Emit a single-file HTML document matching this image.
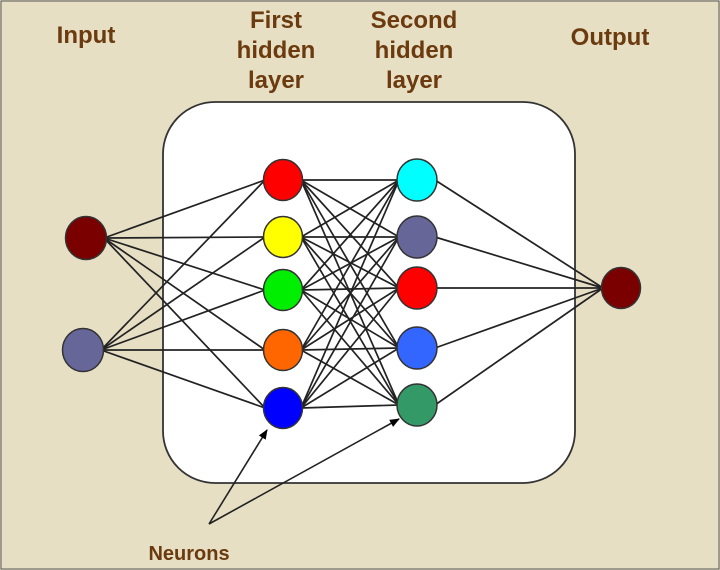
<!DOCTYPE html>
<html><head><meta charset="utf-8"><style>
body{margin:0;width:720px;height:570px;overflow:hidden;background:#e8e0c4}
svg{display:block}
text{font-family:"Liberation Sans",sans-serif;font-weight:bold;fill:#6b3a0e;text-anchor:middle}
</style></head><body>
<svg id="s" width="720" height="570" xmlns="http://www.w3.org/2000/svg">
<defs><marker id="ah" markerWidth="10" markerHeight="10" refX="9" refY="5" orient="auto" markerUnits="userSpaceOnUse"><path d="M0,1 L10,5 L0,9 Z" fill="#000"/></marker></defs>
<rect x="0" y="0" width="720" height="570" fill="#e6dfc4"/>
<rect x="1" y="1" width="718" height="568" fill="none" stroke="#555" stroke-width="1"/>
<text x="86" y="43" font-size="24">Input</text>
<text x="276" y="28" font-size="24">First</text>
<text x="276" y="58" font-size="24">hidden</text>
<text x="276" y="88" font-size="24">layer</text>
<text x="414" y="28" font-size="24">Second</text>
<text x="414" y="58" font-size="24">hidden</text>
<text x="414" y="88" font-size="24">layer</text>
<text x="610" y="45" font-size="24">Output</text>
<text x="189" y="560" font-size="20">Neurons</text>
<rect x="163" y="102" width="412" height="381" rx="52" fill="#fff" stroke="#333" stroke-width="1.8"/>
<g id="L" stroke="#222" stroke-width="1.7"></g>
<g id="N" stroke="#333" stroke-width="1.5"></g>
<line x1="209" y1="524" x2="267" y2="430" stroke="#222" stroke-width="1.6" marker-end="url(#ah)"/>
<line x1="209" y1="524" x2="399" y2="419" stroke="#222" stroke-width="1.6" marker-end="url(#ah)"/>
</svg>
<script>
var ns="http://www.w3.org/2000/svg";
var inp=[[86,238,"#7a0000"],[83,350,"#666699"]];
var h1=[[283,180,"#ff0000"],[283,237,"#ffff00"],[283,290,"#00ee00"],[283,350,"#ff6600"],[283,408,"#0000ff"]];
var h2=[[417,180,"#00ffff"],[417,237,"#666699"],[417,288,"#ff0000"],[417,348,"#3366ff"],[417,405,"#339966"]];
var out=[[621,288,"#7a0000"]];
var L=document.getElementById("L"),N=document.getElementById("N");
function ln(a,b,ox1,ox2){var l=document.createElementNS(ns,"line");l.setAttribute("x1",a[0]+ox1);l.setAttribute("y1",a[1]);l.setAttribute("x2",b[0]+ox2);l.setAttribute("y2",b[1]);L.appendChild(l);}
inp.forEach(a=>h1.forEach(b=>ln(a,b,18,-18)));
h1.forEach(a=>h2.forEach(b=>ln(a,b,18,-18)));
h2.forEach(a=>out.forEach(b=>ln(a,b,18,-18)));
function c(p,r){var e=document.createElementNS(ns,"ellipse");e.setAttribute("cx",p[0]);e.setAttribute("cy",p[1]);e.setAttribute("rx",r);e.setAttribute("ry",r*1.05);e.setAttribute("fill",p[2]);N.appendChild(e);}
inp.forEach(p=>c(p,20.5));h1.forEach(p=>c(p,19.5));h2.forEach(p=>c(p,20));out.forEach(p=>c(p,19.5));
</script>
</body></html>
